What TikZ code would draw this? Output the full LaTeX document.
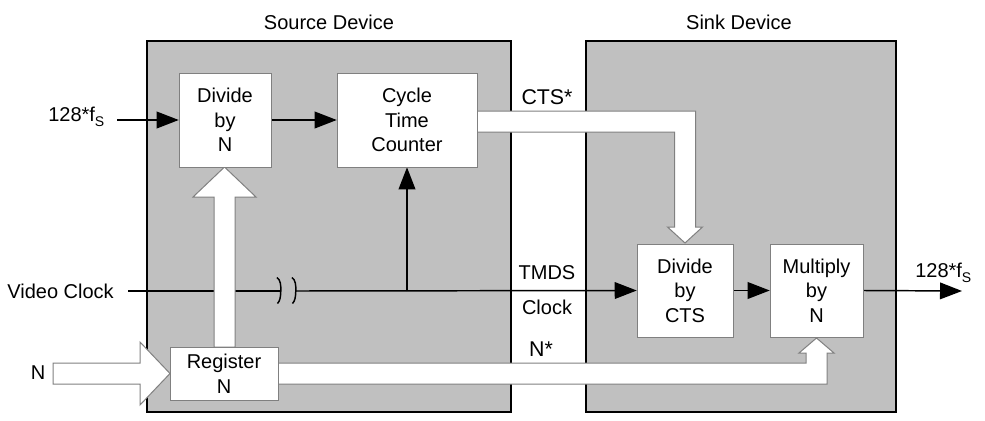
\documentclass[tikz,border=0pt]{standalone}
\usepackage{fontspec}
\setmainfont{Liberation Sans}
\usetikzlibrary{arrows.meta,calc}
\definecolor{devfill}{RGB}{192,192,192}
\definecolor{edgegray}{RGB}{128,128,128}
\begin{document}
\begin{tikzpicture}[x=0.75pt,y=-0.75pt,
  txt/.style={font=\fontsize{15}{18.4}\selectfont, inner sep=0pt, align=center},
  devbox/.style={draw=black, line width=1.1pt, fill=devfill, inner sep=0pt},
  blk/.style={draw=edgegray, line width=0.75pt, fill=white, inner sep=0pt, align=center, font=\fontsize{15}{18.4}\selectfont},
  sig/.style={draw=black, line width=1.1pt},
  sigarr/.style={sig, -{Triangle[length=16.5pt,width=12.5pt]}},
  fat/.style={draw=edgegray, line width=0.75pt, fill=white, line join=miter}
]
\useasboundingbox (0,0) rectangle (985,421);
\fill[white] (0,0) rectangle (985,421);

% device boxes
\node[devbox, minimum width=273pt, minimum height=278.25pt] (src) at (329,226.5) {};
\node[devbox, minimum width=232.5pt, minimum height=278.25pt] (snk) at (741,226.5) {};
\node[txt] (srct) at (329,22) {Source Device};
\node[txt] (snkt) at (739,22) {Sink Device};

% blocks (placed first so that anchors exist; drawn on top later)
\path (225,120) node[minimum width=69pt, minimum height=70.5pt, inner sep=0pt] (divn) {};
\path (407,120) node[minimum width=105pt, minimum height=70.5pt, inner sep=0pt] (ctc) {};
\path (685,290.5) node[minimum width=72pt, minimum height=69.75pt, inner sep=0pt] (divcts) {};
\path (816.5,290.5) node[minimum width=69.75pt, minimum height=69.75pt, inner sep=0pt] (mult) {};
\path (224,373.5) node[minimum width=81pt, minimum height=39.75pt, inner sep=0pt] (reg) {};

% thin signal lines
\coordinate (inL) at (117,120);
\coordinate (vs) at (128,291);
\coordinate (b1) at (280.5,291);
\coordinate (b2) at (295.5,291);
\coordinate (jn) at (407,291);
\coordinate (outR) at (962,291);
\draw[sigarr] (inL) -- (divn.west);
\draw[sigarr] (divn.east) -- (ctc.west);
\draw[sig] (vs) -- (b1);
\draw[sigarr] (b2) -- (divcts.west);
\draw[sigarr] (jn) -- (ctc.south);
\draw[sigarr] (divcts.east) -- (mult.west);
\draw[sigarr] (mult.east) -- (outR);

% break marks
\draw[sig] (277,277.5) .. controls (280.5,280) and (281,285) .. (280.8,291)
           .. controls (280.6,297) and (280,301) .. (277.5,303.5);
\draw[sig] (292,277.5) .. controls (295.5,280) and (296,285) .. (295.8,291)
           .. controls (295.6,297) and (295,301) .. (292.5,303.5);

% fat white arrows
\draw[fat] (214,347) -- (214,197) -- (193,197) -- (224.5,167) -- (256,197) -- (235,197) -- (235,347) -- cycle;
\draw[fat] (53,363) -- (140,363) -- (140,342) -- (170,373.5) -- (140,405) -- (140,384) -- (53,384) -- cycle;
\draw[fat] (477,111) -- (695.5,111) -- (695.5,227) -- (702.5,227) -- (685,243) -- (667.5,227) -- (674.5,227) -- (674.5,132) -- (477,132) -- cycle;
\draw[fat] (278,363) -- (806,363) -- (806,353) -- (799,353) -- (816.5,338) -- (834,353) -- (827,353) -- (827,384) -- (278,384) -- cycle;

% visible blocks
\node[blk, minimum width=69pt, minimum height=70.5pt] at (divn) {Divide\\by\\N};
\node[blk, minimum width=105pt, minimum height=70.5pt] at (ctc) {Cycle\\Time\\Counter};
\node[blk, minimum width=72pt, minimum height=69.75pt] at (divcts) {Divide\\by\\CTS};
\node[blk, minimum width=69.75pt, minimum height=69.75pt] at (mult) {Multiply\\by\\N};
\node[blk, minimum width=81pt, minimum height=39.75pt] at (reg) {Register\\N};

% labels
\node[txt, anchor=base west] (inl) at (48,121) {128*f\raisebox{-0.5ex}{\fontsize{10.5}{10.5}\selectfont S}};
\node[txt, anchor=east] (vclk) at (114,291) {Video Clock};
\node[txt] (nin) at (38,373) {N};
\node[txt, font=\fontsize{16}{19}\selectfont] (ctsl) at (547,97) {CTS*};
\node[txt] (tmds) at (547,273) {TMDS};
\node[txt] (clk) at (547,307) {Clock};
\node[txt, font=\fontsize{16}{19}\selectfont] (nst) at (541,349) {N*};
\node[txt, anchor=base west] (outl) at (915,277) {128*f\raisebox{-0.5ex}{\fontsize{10.5}{10.5}\selectfont S}};
\end{tikzpicture}
\end{document}
